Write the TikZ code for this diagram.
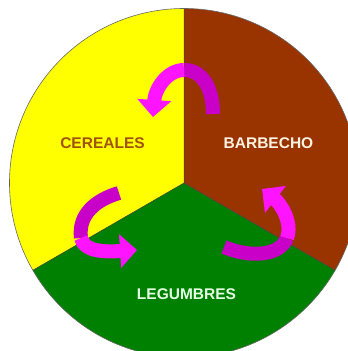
\documentclass[tikz,border=0pt]{standalone}
\usepackage{fontspec}
\setmainfont{Liberation Sans}
\usepackage{tikz}
\usetikzlibrary{arrows.meta}

\definecolor{gelb}{RGB}{255,255,0}
\definecolor{braun}{RGB}{153,51,0}
\definecolor{gruen}{RGB}{0,128,0}
\definecolor{magHell}{RGB}{255,20,255}
\definecolor{magDunkel}{RGB}{200,0,200}
\definecolor{schriftC}{RGB}{160,82,10}
\definecolor{schriftB}{RGB}{255,242,224}
\definecolor{schriftL}{RGB}{228,255,228}

\begin{document}
\begin{tikzpicture}[x=1pt, y=1pt,
    band/.style={line width=14pt},
    hinten/.style={band, draw=magDunkel},
    vorne/.style={band, draw=magHell, -{Triangle[width=33pt,length=17pt]}},
    schrift/.style={font=\bfseries\fontsize{15.5}{18}\selectfont}]
            \useasboundingbox (0,0) rectangle (348,351);
            \clip (0,0) rectangle (348,351);
            \coordinate (m) at (184,168);
            \path (m) ++(90:174.5) coordinate (r1)
                  (m) ++(210:174.5) coordinate (r2)
                  (m) ++(330:174.5) coordinate (r3);
            % Felder
            \fill[gelb]  (m) -- (r1) arc[start angle=90, end angle=210, radius=174.5] -- cycle;
            \fill[gruen] (m) -- (r2) arc[start angle=210, end angle=330, radius=174.5] -- cycle;
            \fill[braun] (m) -- (r3) arc[start angle=-30, end angle=90, radius=174.5] -- cycle;
            \draw[line width=0.5pt, black!75] (m) -- (r1)
                  (m) -- (r2)
                  (m) -- (r3);
            \draw[line width=0.6pt, black!60] (m) circle[radius=174.5];
            % Pfeile
            \draw[hinten] (213,237) .. controls (213,262) and (203,281) .. (184,281);
            \draw[vorne]  (184,281) .. controls (167,281) and (155,262) .. (153,234);
            \draw[hinten] (119,158) .. controls (95,151) and (78,136) .. (81,113);
            \draw[vorne]  (81,113) .. controls (84,99) and (105,99) .. (137,101);
            \draw[hinten] (224,104) .. controls (250,93) and (280,95) .. (287,113);
            \draw[vorne]  (287,113) .. controls (293,129) and (280,148) .. (262,162);
            % Beschriftung
            \node[schrift, text=schriftC] (cereales)  at (102.5,208) {CEREALES};
            \node[schrift, text=schriftB] (barbecho)  at (268.5,208) {BARBECHO};
            \node[schrift, text=schriftL] (legumbres) at (186.5,57)  {LEGUMBRES};
\end{tikzpicture}
\end{document}
